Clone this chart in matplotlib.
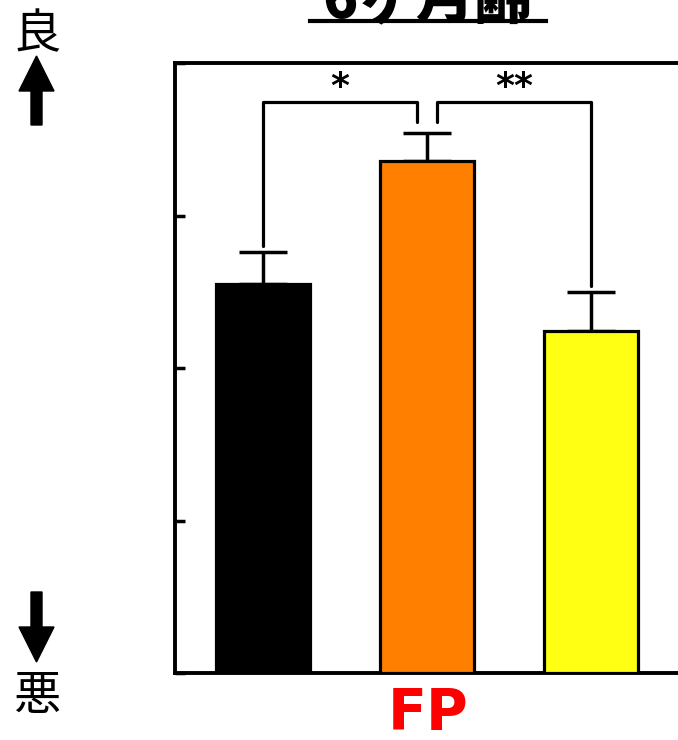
import matplotlib
matplotlib.use("Agg")
import matplotlib.pyplot as plt
from matplotlib.patches import Polygon
import numpy as np

plt.rcParams['font.family'] = ['Noto Sans CJK JP', 'DejaVu Sans']

# ---- data ----
groups = ["A", "B", "C"]
means = [2.55, 3.36, 2.24]
errors = [0.21, 0.18, 0.26]
colors = ["#000000", "#ff8000", "#ffff14"]
group_label = "FP"
title = "6ヶ月齢"
sig_pairs = [(0, 1, "*"), (1, 2, "**")]

W, H = 678, 740
fig = plt.figure(figsize=(W / 100, H / 100), dpi=100)
ax = fig.add_axes([175 / W, 67 / H, 504 / W, 610 / H])

x = np.arange(len(groups))
ax.bar(x, means, width=0.57, color=colors, edgecolor="black", linewidth=2.3, zorder=3)
eb = ax.errorbar(x, means, yerr=[np.zeros(len(errors)), errors], fmt="none",
                 ecolor="black", elinewidth=2.5, capsize=17, capthick=2.5, zorder=2)

ax.set_xlim(-0.537, 2.537)
ax.set_ylim(0, 4)
ax.set_yticks([0, 1, 2, 3, 4])
ax.set_yticklabels([])
ax.set_xticks([])
ax.tick_params(axis="y", direction="in", length=7, width=2.5)
for s in ax.spines.values():
    s.set_linewidth(2.8)
ax.spines["right"].set_visible(False)

# significance brackets
top_y = 3.745
inner_y = 3.61
gap = 0.061
for (i, j, lab) in sig_pairs:
    if i == 0:
        xa, xb = x[i], x[j] - gap
        ya, yb = means[i] + errors[i] + 0.04, inner_y
    else:
        xa, xb = x[i] + gap, x[j]
        ya, yb = inner_y, means[j] + errors[j] + 0.04
    ax.plot([xa, xa, xb, xb], [ya, top_y, top_y, yb], color="black", lw=2.3,
            solid_joinstyle="round", solid_capstyle="round", zorder=4)
    ax.text((xa + xb) / 2, 3.84, lab, ha="center", va="center",
            fontsize=26, fontweight="bold", family="DejaVu Sans")

# group label
fig.text(428 / W, 1 - 714 / H, group_label, color="#ff0000", ha="center", va="center",
         fontsize=41, fontweight="bold", family="DejaVu Sans")

# overlay in pixel coords for decorations
ov = fig.add_axes([0, 0, 1, 1], zorder=-1)
ov.set_xlim(0, W)
ov.set_ylim(H, 0)
ov.axis("off")

# title (mostly cut off at top)
ov.text(428, 17, title, ha="center", va="baseline", fontsize=42, fontweight="heavy")
ov.plot([310, 546], [21, 21], color="black", lw=3)

# good / bad labels with arrows
ov.text(37, 35, "良", ha="center", va="center", fontsize=34)
ov.text(37, 697, "悪", ha="center", va="center", fontsize=34)
cx = 36.5
up = [(cx, 56), (cx + 17.5, 91), (cx + 5.5, 91), (cx + 5.5, 125), (cx - 5.5, 125),
      (cx - 5.5, 91), (cx - 17.5, 91)]
down = [(cx, 662), (cx + 17.5, 627), (cx + 5.5, 627), (cx + 5.5, 592), (cx - 5.5, 592),
        (cx - 5.5, 627), (cx - 17.5, 627)]
ov.add_patch(Polygon(up, closed=True, color="black"))
ov.add_patch(Polygon(down, closed=True, color="black"))

fig.savefig("out.png", dpi=100)
